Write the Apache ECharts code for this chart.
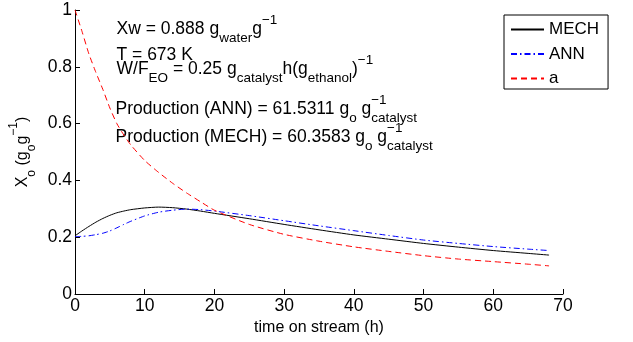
<!DOCTYPE html>
<html><head><meta charset="utf-8">
<script src="https://cdn.jsdelivr.net/npm/echarts@6/dist/echarts.min.js"></script>
<style>html,body{margin:0;padding:0;background:#fff}#c{width:633px;height:342px}</style>
</head><body><div id="c"></div>
<script>
var timeH = [0,1,2,3,4,5,6,7,8,10,12,14,16,18,20,25,30,35,40,45,50,55,60,65,68];
var mechVals = [0.205,0.222,0.238,0.253,0.266,0.277,0.286,0.292,0.297,0.303,0.306,0.304,0.299,0.292,0.284,0.265,0.245,0.226,0.208,0.193,0.178,0.165,0.153,0.143,0.137];
var annVals = [0.202,0.203,0.205,0.209,0.214,0.222,0.233,0.245,0.256,0.275,0.288,0.295,0.299,0.297,0.292,0.276,0.258,0.240,0.223,0.206,0.190,0.178,0.167,0.158,0.153];
var aVals = [1.0,0.925,0.845,0.78,0.72,0.655,0.60,0.56,0.525,0.47,0.428,0.39,0.356,0.325,0.295,0.245,0.21,0.186,0.166,0.15,0.135,0.123,0.114,0.105,0.099];
var seriesNames = ['MECH','ANN','a'];
var xTicks = {min:0, max:70, interval:10};
var yTicks = {min:0, max:1, interval:0.2};

var FF = '"Liberation Sans", Arial, sans-serif';
function pairs(v){ return timeH.map(function(t,i){ return [t, v[i]]; }); }
var MS = 17.5, SS = 13.5;
var rich = {
  m: {fontSize: MS, fontFamily: FF, color:'#000', lineHeight: 32, verticalAlign:'middle'},
  s: {fontSize: SS, fontFamily: FF, color:'#000', lineHeight: 13, verticalAlign:'bottom'},
  p: {fontSize: SS, fontFamily: FF, color:'#000', lineHeight: 22, verticalAlign:'top'}
};
var cv = document.createElement('canvas').getContext('2d');
function w(txt, size){ cv.font = size + 'px ' + FF; return cv.measureText(txt).width; }

var DY = 2.5;
function ann(x, cy, str){
  return {type:'text', x: x, y: cy - 16 + DY, silent:true,
    style:{text: str, rich: rich, x:0, y:0, verticalAlign:'top', align:'left'}};
}
var g = [];
g.push(ann(116.5, 27, '{m|Xw = 0.888 g}{s|water}{m|g}{p|−1}'));
g.push(ann(116.5, 52.5, '{m|T = 673 K}'));
g.push(ann(116.5, 66.5, '{m|W/F}{s|EO}{m| = 0.25 g}{s|catalyst}{m|h(g}{s|ethanol}{m|)}{p|−1}'));
function prod(label, val, cy){
  var main1 = 'Production (' + label + ') = ' + val + ' ';
  g.push(ann(115.5, cy, '{m|' + main1 + 'g}{s|o}{m| g}{s|catalyst}'));
  var off = w(main1 + 'g', MS) + w('o', SS) + w(' g', MS);
  g.push(ann(115.5 + off, cy, '{p|−1}'));
}
prod('ANN', '61.5311', 106.5);
prod('MECH', '60.3583', 135);
// y axis title
g.push({type:'text', x:23, y:152, rotation: Math.PI/2, silent:true,
  style:{text:'{m|X}{s|o}{m| (g}{s|o}{m|g}{p|−1}{m|)}', rich:{
    m:{fontSize:16, fontFamily:FF, color:'#000', lineHeight:30, verticalAlign:'middle'},
    s:{fontSize:12, fontFamily:FF, color:'#000', lineHeight:12, verticalAlign:'bottom'},
    p:{fontSize:12, fontFamily:FF, color:'#000', lineHeight:20, verticalAlign:'top'}
  }, align:'center', verticalAlign:'middle'}});

var chart = echarts.init(document.getElementById('c'), null, {renderer:'canvas'});
var axisCommon = {
  axisLine:{show:true, onZero:false, lineStyle:{color:'#000', width:1}},
  axisTick:{show:true, inside:true, length:5, lineStyle:{color:'#000'}},
  splitLine:{show:false},
  axisLabel:{color:'#000', fontSize:17.5, fontFamily:FF, margin:3}
};
chart.setOption({
  animation:false,
  backgroundColor:'#fff',
  grid:{left:75, right:70, top:10, bottom:48, containLabel:false},
  xAxis: Object.assign({type:'value', min:xTicks.min, max:xTicks.max, interval:xTicks.interval,
    name:'time on stream (h)', nameLocation:'middle', nameGap:23,
    nameTextStyle:{color:'#000', fontSize:16, fontFamily:FF}}, axisCommon),
  yAxis: Object.assign({type:'value', min:yTicks.min, max:yTicks.max, interval:yTicks.interval}, axisCommon),
  legend:{orient:'vertical', left:504, top:15, data:seriesNames,
    itemWidth:33, itemHeight:14, itemGap:7.5, padding:[6,9,2,6],
    borderColor:'#000', borderWidth:1, backgroundColor:'#fff', borderRadius:0,
    itemStyle:{opacity:0},
    textStyle:{color:'#000', fontSize:17, fontFamily:FF, lineHeight:14}},
  graphic: g,
  series:[
    {name:seriesNames[0], type:'line', data:pairs(mechVals), showSymbol:false, symbol:'none', smooth:0.2,
     lineStyle:{color:'#000', width:1, type:'solid'}, itemStyle:{color:'#000'}},
    {name:seriesNames[1], type:'line', data:pairs(annVals), showSymbol:false, symbol:'none', smooth:0.2,
     lineStyle:{color:'#0000ff', width:1, type:[6,3,1.5,3]}, itemStyle:{color:'#0000ff'}},
    {name:seriesNames[2], type:'line', data:pairs(aVals), showSymbol:false, symbol:'none', smooth:0.2,
     lineStyle:{color:'#ff0000', width:1, type:[6,4]}, itemStyle:{color:'#ff0000'}}
  ]
});
</script></body></html>
